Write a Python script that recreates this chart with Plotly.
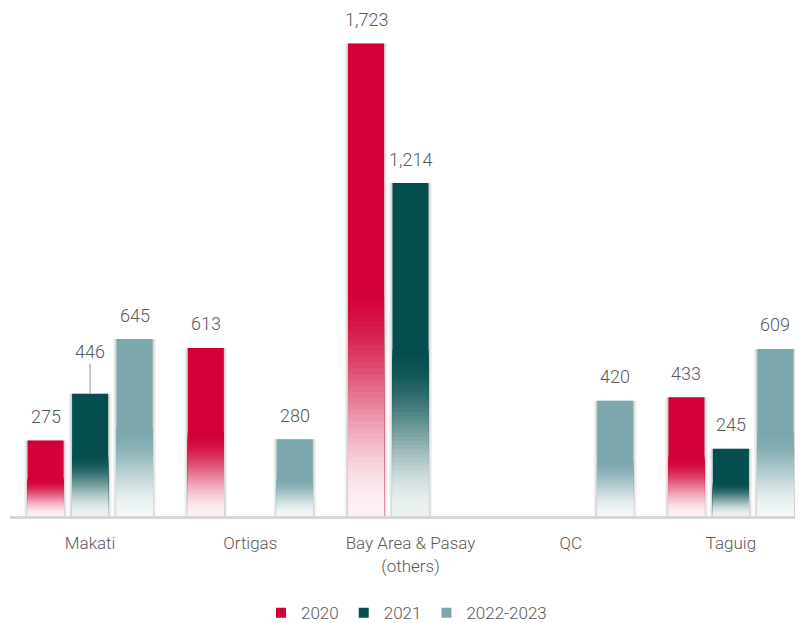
import plotly.graph_objects as go

categories = ["Makati", "Ortigas", "Bay Area & Pasay<br>(others)", "QC", "Taguig"]
series_names = ["2020", "2021", "2022-2023"]
values_2020 = [275, 613, 1723, None, 433]
values_2021 = [446, None, 1214, None, 245]
values_2022_2023 = [645, 280, None, 420, 609]
series_values = [values_2020, values_2021, values_2022_2023]
colors = ["#D20036", "#054E4F", "#7BA7AD"]
bottom_colors = ["#FDF0F3", "#ECF2F2", "#F2F7F7"]

N_STEPS = 40
SOLID_FRACTION = 0.5
TEXT_COLOR = "#595959"
FONT = "Roboto, Arial, sans-serif"
BARGAP = 0.167
BARGROUPGAP = 0.19
PX = 4.95 / 793  # axis units per pixel


def hex_to_rgb(h):
    h = h.lstrip("#")
    return tuple(int(h[i:i + 2], 16) for i in (0, 2, 4))


def mix(c1, c2, t):
    a, b = hex_to_rgb(c1), hex_to_rgb(c2)
    return "rgb(%d,%d,%d)" % tuple(round(a[i] + (b[i] - a[i]) * t) for i in range(3))


def smooth(t):
    return 3 * t * t - 2 * t * t * t


fig = go.Figure()

slot = (1 - BARGAP) / 3
bar_w = slot * (1 - BARGROUPGAP)

# soft drop shadows behind bars (overlay mode via explicit offset)
for s, vals in enumerate(series_values):
    for extra, alpha in ((7, 0.05), (4, 0.07), (2, 0.08)):
        w = bar_w + extra * PX
        fig.add_trace(go.Bar(
            x=categories, y=vals, width=w, offset=(s - 1) * slot - w / 2,
            marker=dict(color=f"rgba(0,0,0,{alpha})", line=dict(width=0)),
            showlegend=False, hoverinfo="skip",
        ))

for s, (name, vals, col, bcol) in enumerate(zip(series_names, series_values, colors, bottom_colors)):
    # full-height bar in solid colour
    fig.add_trace(go.Bar(
        x=categories, y=vals, name=name, offsetgroup=str(s),
        marker=dict(color=col, line=dict(width=0)),
        showlegend=False, hoverinfo="skip",
    ))
    # lighter, shorter overlays produce a bottom fade
    for k in range(N_STEPS):
        top_frac = SOLID_FRACTION * (N_STEPS - k) / N_STEPS
        mid_frac = SOLID_FRACTION * (N_STEPS - k - 0.5) / N_STEPS
        c = mix(bcol, col, smooth(mid_frac / SOLID_FRACTION))
        fig.add_trace(go.Bar(
            x=categories, y=[None if v is None else v * top_frac for v in vals],
            offsetgroup=str(s), marker=dict(color=c, line=dict(width=0)),
            showlegend=False, hoverinfo="skip",
        ))

# legend entries
for name, col in zip(series_names, colors):
    fig.add_trace(go.Scatter(
        x=[None], y=[None], mode="markers", name=name,
        marker=dict(symbol="square", size=10, color=col),
    ))

annotations = []
for s, vals in enumerate(series_values):
    for i, v in enumerate(vals):
        if v is None:
            continue
        xpos = i + (s - 1) * slot
        if s == 1 and i == 0:
            annotations.append(dict(
                x=xpos, y=v, xref="x", yref="y", text=f"{v:,}",
                showarrow=True, ax=0, ay=-42, arrowhead=0, arrowwidth=1.2,
                arrowcolor="#a6a6a6", standoff=0,
                font=dict(family=FONT, size=18, color=TEXT_COLOR, weight=300),
            ))
        else:
            annotations.append(dict(
                x=xpos, y=v, xref="x", yref="y", text=f"{v:,}",
                showarrow=False, yshift=24, yanchor="middle",
                font=dict(family=FONT, size=18, color=TEXT_COLOR, weight=300),
            ))

# page body has an 8px margin: figure is sized to the visible area
fig.update_layout(
    width=795, height=615,
    margin=dict(l=2, r=0, t=2, b=107),
    paper_bgcolor="white", plot_bgcolor="white",
    barmode="group", bargap=BARGAP, bargroupgap=BARGROUPGAP,
    font=dict(family=FONT, size=17, color=TEXT_COLOR, weight=300),
    xaxis=dict(
        type="category", range=[-0.5, 4.45], showgrid=False,
        showline=True, linecolor="#d6d6d6", linewidth=3,
        ticks="", tickfont=dict(size=17, color=TEXT_COLOR),
        ticklabelstandoff=10, fixedrange=True,
    ),
    yaxis=dict(range=[0, 1845], visible=False, showgrid=False, fixedrange=True),
    legend=dict(
        orientation="h", x=0.5, xanchor="center",
        yref="container", y=0.016, yanchor="middle",
        font=dict(size=17, color=TEXT_COLOR), itemwidth=30,
    ),
    annotations=annotations,
)

fig.write_html("out.html")
